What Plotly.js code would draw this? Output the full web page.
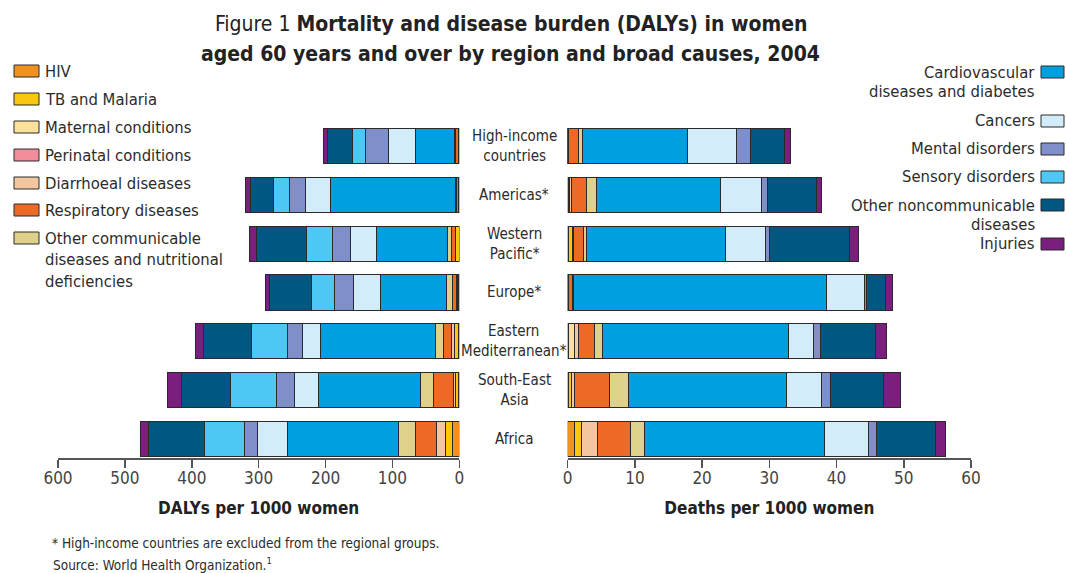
<!DOCTYPE html>
<html>
<head>
<meta charset="utf-8">
<script src="https://cdn.plot.ly/plotly-3.0.1.min.js"></script>
<style>html,body{margin:0;padding:0;background:#fff;}#chart{width:1066px;height:573px;}</style>
</head>
<body>
<div id="chart"></div>
<script>
// ---------- DATA ----------
const regions = ["High-income countries", "Americas*", "Western Pacific*", "Europe*", "Eastern Mediterranean*", "South-East Asia", "Africa"];
const regionLabels = ["High-income<br>countries", "Americas*", "Western<br>Pacific*", "Europe*", "Eastern<br>Mediterranean*", "South-East<br>Asia", "Africa"];

const causes = ["HIV", "TB and Malaria", "Maternal conditions", "Perinatal conditions", "Diarrhoeal diseases", "Respiratory diseases", "Other communicable diseases and nutritional deficiencies", "Cardiovascular diseases and diabetes", "Cancers", "Mental disorders", "Sensory disorders", "Other noncommunicable diseases", "Injuries"];
const causeColors = ["#f39120", "#f9c80e", "#fde09a", "#f28d9a", "#f3c6a0", "#ec6a25", "#e0d18a", "#00a0e0", "#d2ecf9", "#7f8fc9", "#4dc8f4", "#005782", "#7b1f7e"];

// DALYs per 1000 women (left panel), per region in the order of `regions`
const dalyHIV         = [0.5, 0.5, 0.3, 0.5, 0.5, 0.5, 9.9];
const dalyTB          = [0.5, 0.5, 5.0, 2.0, 7.0, 5.0, 10.0];
const dalyMaternal    = [0, 0, 0, 0, 0, 0, 0];
const dalyPerinatal   = [0, 0, 0, 0, 0, 0, 0];
const dalyDiarrhoeal  = [0.3, 0.5, 0.5, 1.5, 3.9, 3.0, 14.9];
const dalyRespiratory = [4.0, 3.0, 6.4, 6.0, 12.5, 29.4, 30.3];
const dalyOtherComm   = [2.5, 1.5, 6.0, 9.0, 11.4, 20.5, 25.4];
const dalyCVD         = [57.7, 186.8, 106.0, 98.6, 172.4, 152.4, 166.4];
const dalyCancers     = [40.3, 37.8, 38.8, 39.9, 26.3, 35.3, 44.2];
const dalyMental      = [35.0, 23.4, 26.0, 28.4, 22.4, 27.9, 20.0];
const dalySensory     = [19.4, 24.4, 39.7, 35.3, 54.8, 67.7, 59.2];
const dalyOtherNCD    = [36.8, 33.5, 73.8, 63.3, 71.3, 73.2, 83.7];
const dalyInjuries    = [6.6, 7.9, 10.9, 6.0, 12.4, 21.5, 13.0];

// Deaths per 1000 women (right panel)
const deathHIV         = [0.02, 0.1, 0.05, 0.02, 0.05, 0.05, 0.99];
const deathTB          = [0.02, 0.2, 0.69, 0.05, 0.05, 0.5, 1.09];
const deathMaternal    = [0, 0, 0, 0, 0.9, 0, 0];
const deathPerinatal   = [0, 0, 0, 0, 0, 0, 0];
const deathDiarrhoeal  = [0.02, 0.2, 0.05, 0.05, 0.64, 0.45, 2.38];
const deathRespiratory = [1.55, 2.33, 1.49, 0.65, 2.38, 5.16, 4.81];
const deathOtherComm   = [0.64, 1.39, 0.5, 0.05, 1.09, 2.88, 2.13];
const deathCVD         = [15.57, 18.44, 20.67, 37.68, 27.76, 23.45, 26.87];
const deathCancers     = [7.24, 6.2, 5.95, 5.6, 3.72, 5.3, 6.54];
const deathMental      = [2.18, 0.84, 0.69, 0.3, 1.04, 1.24, 1.14];
const deathSensory     = [0, 0, 0, 0, 0, 0, 0];
const deathOtherNCD    = [5.01, 7.34, 11.8, 2.83, 8.23, 7.93, 8.82];
const deathInjuries    = [0.94, 0.79, 1.44, 1.09, 1.64, 2.58, 1.49];

const dalyTicks  = [600, 500, 400, 300, 200, 100, 0];
const deathTicks = [0, 10, 20, 30, 40, 50, 60];

// ---------- BUILD ----------
const dalySeries  = [dalyHIV, dalyTB, dalyMaternal, dalyPerinatal, dalyDiarrhoeal, dalyRespiratory, dalyOtherComm, dalyCVD, dalyCancers, dalyMental, dalySensory, dalyOtherNCD, dalyInjuries];
const deathSeries = [deathHIV, deathTB, deathMaternal, deathPerinatal, deathDiarrhoeal, deathRespiratory, deathOtherComm, deathCVD, deathCancers, deathMental, deathSensory, deathOtherNCD, deathInjuries];

const W = 1066, H = 573;
const px = x => x / W;
const py = y => 1 - y / H;
const FONT = "'DejaVu Sans Condensed', 'Liberation Sans Narrow', 'Arial Narrow', sans-serif";
const TXT = "#2b2b2b";

const traces = [];
causes.forEach((c, i) => {
  traces.push({
    type: "bar", orientation: "h", name: c, y: regions, x: dalySeries[i],
    xaxis: "x", yaxis: "y", showlegend: false,
    marker: {color: causeColors[i], line: {color: "#2a2a2a", width: 1}},
    hovertemplate: c + ": %{x}<extra>%{y}</extra>"
  });
});
causes.forEach((c, i) => {
  traces.push({
    type: "bar", orientation: "h", name: c, y: regions, x: deathSeries[i],
    xaxis: "x2", yaxis: "y", showlegend: false,
    marker: {color: causeColors[i], line: {color: "#2a2a2a", width: 1}},
    hovertemplate: c + ": %{x}<extra>%{y}</extra>"
  });
});

const annotations = [];
const shapes = [];

// title (two lines)
annotations.push({text: "Figure 1 <b>Mortality and disease burden (DALYs) in women</b>", x: px(511), y: py(24),
  xref: "paper", yref: "paper", showarrow: false, xanchor: "center", yanchor: "middle", font: {size: 21, color: "#222"}});
annotations.push({text: "<b>aged 60 years and over by region and broad causes, 2004</b>", x: px(511), y: py(54),
  xref: "paper", yref: "paper", showarrow: false, xanchor: "center", yanchor: "middle", font: {size: 21, color: "#222"}});

// region labels in the middle
regionLabels.forEach((r, i) => {
  annotations.push({text: r, x: px(514), xref: "paper", y: i, yref: "y", showarrow: false,
    xanchor: "center", yanchor: "middle", align: "center", font: {size: 15, color: TXT}});
});

// left legend
const leftLegend = [
  {i: 0, y: 71, lines: ["HIV"]},
  {i: 1, y: 99, lines: ["TB and Malaria"]},
  {i: 2, y: 127, lines: ["Maternal conditions"]},
  {i: 3, y: 155, lines: ["Perinatal conditions"]},
  {i: 4, y: 183, lines: ["Diarrhoeal diseases"]},
  {i: 5, y: 210, lines: ["Respiratory diseases"]},
  {i: 6, y: 238, lines: ["Other communicable", "diseases and nutritional", "deficiencies"]}
];
leftLegend.forEach(e => {
  shapes.push({type: "rect", xref: "paper", yref: "paper", x0: px(14), x1: px(39), y0: py(e.y - 6), y1: py(e.y + 6),
    fillcolor: causeColors[e.i], line: {color: "#2a2a2a", width: 1}});
  e.lines.forEach((t, k) => {
    annotations.push({text: t, x: px(43), y: py(e.y + k * 21.7), xref: "paper", yref: "paper", showarrow: false,
      xanchor: "left", yanchor: "middle", font: {size: 16.5, color: TXT}});
  });
});

// right legend
const rightLegend = [
  {i: 7, y: 72, lines: ["Cardiovascular", "diseases and diabetes"]},
  {i: 8, y: 121, lines: ["Cancers"]},
  {i: 9, y: 149, lines: ["Mental disorders"]},
  {i: 10, y: 177, lines: ["Sensory disorders"]},
  {i: 11, y: 205, lines: ["Other noncommunicable", "diseases"]},
  {i: 12, y: 244, lines: ["Injuries"]}
];
rightLegend.forEach(e => {
  shapes.push({type: "rect", xref: "paper", yref: "paper", x0: px(1041), x1: px(1064), y0: py(e.y - 6), y1: py(e.y + 6),
    fillcolor: causeColors[e.i], line: {color: "#2a2a2a", width: 1}});
  e.lines.forEach((t, k) => {
    annotations.push({text: t, x: px(1037), y: py(e.y + k * 19.5), xref: "paper", yref: "paper", showarrow: false,
      xanchor: "right", yanchor: "middle", font: {size: 16.5, color: TXT}});
  });
});

// footnotes
annotations.push({text: "* High-income countries are excluded from the regional groups.", x: px(50), y: py(543),
  xref: "paper", yref: "paper", showarrow: false, xanchor: "left", yanchor: "middle", font: {size: 13.5, color: TXT}});
annotations.push({text: "Source: World Health Organization.<sup>1</sup>", x: px(51), y: py(564),
  xref: "paper", yref: "paper", showarrow: false, xanchor: "left", yanchor: "middle", font: {size: 13.5, color: TXT}});

const axisCommon = {
  showgrid: false, zeroline: false, showline: true, linecolor: "#555", linewidth: 1.5,
  ticks: "outside", ticklen: 8, tickwidth: 1.5, tickcolor: "#555", ticklabelstandoff: -4,
  tickfont: {size: 17, color: "#444"}, anchor: "y", fixedrange: true
};

const layout = {
  width: W, height: H,
  margin: {l: 0, r: 0, t: 0, b: 0},
  paper_bgcolor: "#fff", plot_bgcolor: "rgba(0,0,0,0)",
  font: {family: FONT, color: TXT},
  barmode: "stack", bargap: 0.28,
  xaxis: Object.assign({}, axisCommon, {
    domain: [px(58), px(459.3)], range: [600, 0], tickvals: dalyTicks,
    title: {text: "<b>DALYs per 1000 women</b>", font: {size: 17, color: "#222"}, standoff: 15}
  }),
  xaxis2: Object.assign({}, axisCommon, {
    domain: [px(567.7), px(971)], range: [0, 60], tickvals: deathTicks,
    title: {text: "<b>Deaths per 1000 women</b>", font: {size: 17, color: "#222"}, standoff: 15}
  }),
  yaxis: {
    domain: [py(458), py(121.6)], range: [6.39, -0.5], type: "category",
    categoryorder: "array", categoryarray: regions,
    visible: false, fixedrange: true
  },
  annotations: annotations,
  shapes: shapes
};

Plotly.newPlot("chart", traces, layout, {displayModeBar: false, staticPlot: true});
</script>
</body>
</html>
